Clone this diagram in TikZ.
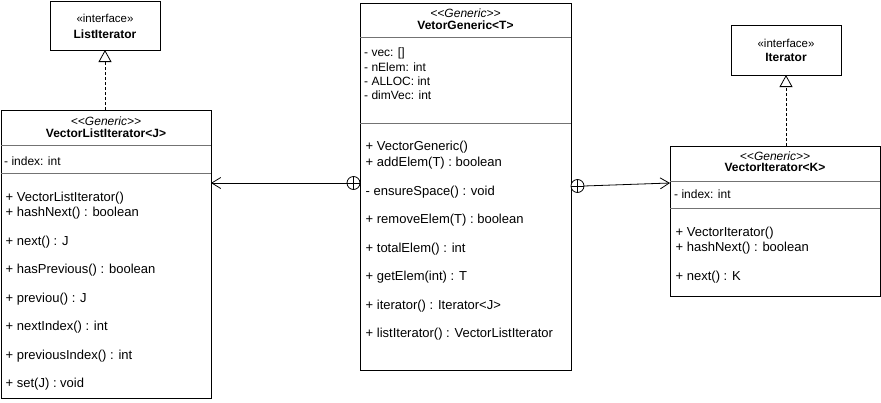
\documentclass[tikz,border=0pt]{standalone}
\usepackage{fontspec}
\setmainfont{Liberation Sans}
\usetikzlibrary{arrows.meta}
\begin{document}
\begin{tikzpicture}[x=1pt,y=-1pt,
 box/.style={draw,line width=0.8pt,anchor=north west,inner sep=0,outer sep=0,fill=white},
 sepline/.style={draw=black!55,line width=0.8pt},
 attr/.style={anchor=base west,inner sep=0,font=\fontsize{12}{14}\selectfont},
 meth/.style={anchor=base west,inner sep=0,font=\fontsize{13}{15}\selectfont},
 ster/.style={anchor=base,inner sep=0,font=\fontsize{12}{14}\selectfont\itshape},
 iface/.style={anchor=base,inner sep=0,font=\fontsize{11.5}{14}\selectfont},
 cname/.style={anchor=base,inner sep=0,font=\fontsize{12}{14}\selectfont\bfseries},
 real/.style={dash pattern=on 3pt off 2pt,line width=0.8pt,-{Triangle[length=12pt,width=13pt,fill=white]}},
 nest/.style={line width=0.8pt,-{Straight Barb[length=9pt,width=11pt]}},
 plus/.style={draw,circle,line width=0.8pt,minimum size=13pt,inner sep=0,outer sep=0,fill=white}
]
\useasboundingbox (0,0) rectangle (881,402);

% boxes
\node[box,minimum width=110pt,minimum height=49pt] (li) at (50,1) {};
\node[box,minimum width=210pt,minimum height=288pt] (vli) at (1,110) {};
\node[box,minimum width=211pt,minimum height=367pt] (vg) at (360,3) {};
\node[box,minimum width=110pt,minimum height=50pt] (it) at (731,25) {};
\node[box,minimum width=210pt,minimum height=150pt] (vit) at (670,146) {};

% ListIterator
\node[iface] (li-s) at (105,22) {«interface»};
\node[cname] (li-n) at (105,38) {ListIterator};

% VectorListIterator
\node[ster] (vli-s) at (106,125) {<{}<Generic>{}>};
\node[cname] (vli-n) at (106,137) {VectorListIterator<J>};
\draw[sepline] (vli.west |- 0,145) -- (vli.east |- 0,145);
\node[attr] (vli-a1) at (4,165) {- index: int};
\draw[sepline] (vli.west |- 0,173) -- (vli.east |- 0,173);
\node[meth] (vli-m1) at (5.5,201.5) {+ VectorListIterator()};
\node[meth] (vli-m2) at (5.5,216.5) {+ hashNext() : boolean};
\node[meth] (vli-m3) at (5.5,245) {+ next() : J};
\node[meth] (vli-m4) at (5.5,273.5) {+ hasPrevious() : boolean};
\node[meth] (vli-m5) at (5.5,302) {+ previou() : J};
\node[meth] (vli-m6) at (5.5,330.5) {+ nextIndex() : int};
\node[meth] (vli-m7) at (5.5,359) {+ previousIndex() : int};
\node[meth] (vli-m8) at (5.5,387.5) {+ set(J) : void};

% VetorGeneric
\node[ster] (vg-s) at (465.5,17) {<{}<Generic>{}>};
\node[cname] (vg-n) at (465.5,29) {VetorGeneric<T>};
\draw[sepline] (vg.west |- 0,37) -- (vg.east |- 0,37);
\node[attr] (vg-a1) at (364,56.5) {- vec: []};
\node[attr] (vg-a2) at (364,71) {- nElem: int};
\node[attr] (vg-a3) at (364,85) {- ALLOC: int};
\node[attr] (vg-a4) at (364,99.5) {- dimVec: int};
\draw[sepline] (vg.west |- 0,123) -- (vg.east |- 0,123);
\node[meth] (vg-m1) at (365.5,150.5) {+ VectorGeneric()};
\node[meth] (vg-m2) at (365.5,166.5) {+ addElem(T) : boolean};
\node[meth] (vg-m3) at (365.5,195.5) {- ensureSpace() : void};
\node[meth] (vg-m4) at (365.5,223.5) {+ removeElem(T) : boolean};
\node[meth] (vg-m5) at (365.5,252.5) {+ totalElem() : int};
\node[meth] (vg-m6) at (365.5,280.5) {+ getElem(int) : T};
\node[meth] (vg-m7) at (365.5,309.5) {+ iterator() : Iterator<J>};
\node[meth] (vg-m8) at (365.5,337.5) {+ listIterator() : VectorListIterator};

% Iterator
\node[iface] (it-s) at (786,47) {«interface»};
\node[cname] (it-n) at (786,61.5) {Iterator};

% VectorIterator
\node[ster] (vit-s) at (775,160) {<{}<Generic>{}>};
\node[cname] (vit-n) at (775,171.5) {VectorIterator<K>};
\draw[sepline] (vit.west |- 0,181) -- (vit.east |- 0,181);
\node[attr] (vit-a1) at (674,198.5) {- index: int};
\draw[sepline] (vit.west |- 0,208) -- (vit.east |- 0,208);
\node[meth] (vit-m1) at (675.5,236.5) {+ VectorIterator()};
\node[meth] (vit-m2) at (675.5,251.5) {+ hashNext() : boolean};
\node[meth] (vit-m3) at (675.5,280.5) {+ next() : K};

% realizations
\draw[real] (li.south |- vli.north) -- (li.south);
\draw[real] (it.south |- vit.north) -- (it.south);

% nesting connectors
\node[plus] (cl) at (353.5,183) {};
\draw[line width=0.8pt] (cl.north) -- (cl.south) (cl.west) -- (cl.east);
\node[plus] (cr) at (577.5,186) {};
\draw[line width=0.8pt] (cr.north) -- (cr.south) (cr.west) -- (cr.east);
\draw[nest] (cl.west) -- (vli.east |- cl.west);
\coordinate (vitin) at (vit.west |- 0,183);
\draw[nest] (cr.east) -- (vitin);
\end{tikzpicture}
\end{document}
